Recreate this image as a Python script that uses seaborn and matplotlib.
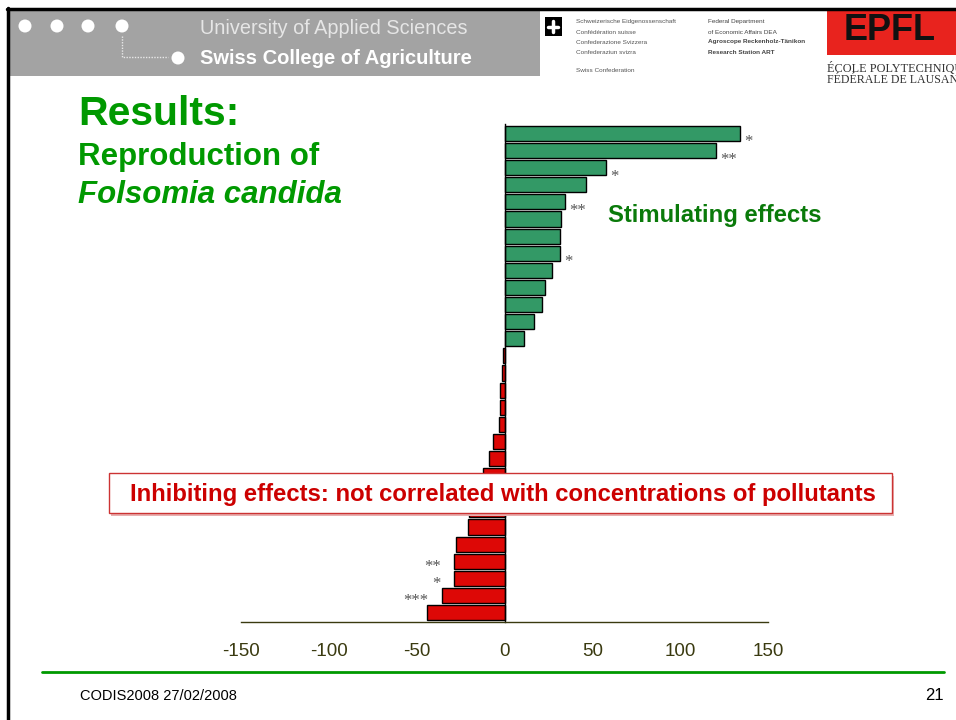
import numpy as np
import pandas as pd
import matplotlib
matplotlib.use("Agg")
import matplotlib.pyplot as plt
from matplotlib.patches import Rectangle, Circle
import seaborn as sns

# data (% change in reproduction vs control)
samples = [f"S{i:02d}" for i in range(1, 30)]
effects = [134, 120.4, 57.7, 46.3, 34.4, 32, 31.5, 31.5, 27, 23, 21.3, 16.7, 11,
           -1.1, -1.2, -2.3, -2.8, -3.4, -6.3, -9.1, -12, -16, -20, -20.5,
           -27.4, -28.5, -28.5, -35.3, -44.4]
signif = ["*", "**", "*", "", "**", "", "", "*", "", "", "", "", "",
          "", "", "", "", "", "", "", "", "", "*", "", "", "**", "*", "***", ""]
xticks = [-150, -100, -50, 0, 50, 100, 150]

df = pd.DataFrame({"sample": samples, "effect": effects, "stars": signif})
df["sign"] = np.where(df["effect"] > 0, "stim", "inhib")

sns.set_style("white")
plt.rcParams["font.family"] = ["Liberation Sans", "DejaVu Sans"]

W, H = 956, 720
fig = plt.figure(figsize=(W / 100, H / 100), dpi=100)
fig.patch.set_facecolor("white")

# background layer in pixel coordinates (header, frame, footer)
bg = fig.add_axes([0, 0, 1, 1], zorder=0)
bg.set_xlim(0, W)
bg.set_ylim(H, 0)
bg.axis("off")

bg.add_patch(Rectangle((8, 11), 532, 65, color="#a3a3a3", lw=0))
bg.plot([7, W], [9, 9], color="black", lw=2.5)
bg.plot([8.5, 8.5], [8, H], color="black", lw=2.5)
for cx in [25, 57, 88, 122]:
    bg.add_patch(Circle((cx, 26), 6.5, color="white", lw=0))
bg.add_patch(Circle((178, 58), 6.5, color="white", lw=0))
bg.plot([122, 122, 168], [36, 57, 57], color="#e8e8e8", lw=1, ls=(0, (1, 1)))
bg.text(200, 28, "University of Applied Sciences", color="#e6e6e6",
        fontsize=14.3, va="center", ha="left")
bg.text(200, 58, "Swiss College of Agriculture", color="white",
        fontsize=14.5, fontweight="bold", va="center", ha="left")

# Swiss confederation logo block
bg.add_patch(Rectangle((545, 17), 17, 19, color="black", lw=0))
bg.plot([553.5, 553.5], [21, 32], color="white", lw=2.5)
bg.plot([548.5, 558.5], [26.5, 26.5], color="white", lw=2.5)
for yy, txt in zip([22, 32, 42, 52, 71],
                   ["Schweizerische Eidgenossenschaft", "Confédération suisse",
                    "Confederazione Svizzera", "Confederaziun svizra",
                    "Swiss Confederation"]):
    bg.text(576, yy, txt, fontsize=4.6, color="#555555", va="center")
for yy, txt, fw in zip([22, 32, 42, 52],
                       ["Federal Department", "of Economic Affairs DEA",
                        "Agroscope Reckenholz-Tänikon", "Research Station ART"],
                       ["normal", "normal", "bold", "bold"]):
    bg.text(708, yy, txt, fontsize=4.6, color="#444444", va="center",
            fontweight=fw)

# EPFL logo block
bg.add_patch(Rectangle((827, 11), 129, 44, color="#e8231e", lw=0))
bg.text(890, 30, "EPFL", fontsize=26, color="#111111", ha="center",
        va="center", fontweight="bold")
bg.text(827, 68, "ÉCOLE POLYTECHNIQUE", fontsize=8.8, color="#333333",
        va="center", family="Liberation Serif")
bg.text(827, 80, "FÉDÉRALE DE LAUSANNE", fontsize=8.6, color="#333333",
        va="center", family="Liberation Serif")

# title block
bg.text(78, 125, "Results:", fontsize=29.5, color="#009900",
        fontweight="bold", va="baseline")
bg.text(78, 165, "Reproduction of", fontsize=22.5, color="#009900",
        fontweight="bold", va="baseline")
bg.text(78, 203, "Folsomia candida", fontsize=22.5, color="#009900",
        fontweight="bold", fontstyle="italic", va="baseline")

# footer
bg.plot([42, 944], [672, 672], color="#009900", lw=2)
bg.text(80, 696, "CODIS2008 27/02/2008", fontsize=10.5, color="black",
        va="center")
bg.text(944, 696, "21", fontsize=12, color="black", va="center", ha="right")

# chart
x0, x1 = 241, 768
y_top, y_bot = 124, 622
ax = fig.add_axes([x0 / W, 1 - y_bot / H, (x1 - x0) / W, (y_bot - y_top) / H],
                  zorder=1)
ax.patch.set_alpha(0)
sns.barplot(data=df, x="effect", y="sample", hue="sign", orient="h",
            palette={"stim": "#339966", "inhib": "#dd0806"}, dodge=False,
            saturation=1, width=0.88, edgecolor="black", linewidth=1,
            legend=False, ax=ax)
ax.set_xlim(-150, 150)
ax.set_ylim(len(samples) - 0.45, -0.55)
ax.set_xticks(xticks)
ax.set_xticklabels([str(t) for t in xticks])
ax.set_yticks([])
ax.set_xlabel("")
ax.set_ylabel("")
axis_col = "#3a3a10"
for s in ["top", "right"]:
    ax.spines[s].set_visible(False)
ax.spines["left"].set_position(("data", 0))
ax.spines["left"].set_color("black")
ax.spines["left"].set_linewidth(1)
ax.spines["bottom"].set_color(axis_col)
ax.spines["bottom"].set_linewidth(1)
ax.tick_params(axis="x", direction="out", length=4, width=1, color=axis_col,
               labelcolor=axis_col, labelsize=13.5, pad=11)

# significance stars next to the bar ends
for i, (v, st) in enumerate(zip(effects, signif)):
    if not st:
        continue
    if v > 0:
        ax.annotate(st, (v, i), xytext=(3, -6.5), textcoords="offset points",
                    ha="left", va="center", fontsize=12, color="#555555",
                    family="Liberation Serif")
    else:
        ax.annotate(st, (v, i), xytext=(-10, -4), textcoords="offset points",
                    ha="right", va="center", fontsize=12, color="#555555",
                    family="Liberation Serif")

ax.text(0.696, 0.817, "Stimulating effects", transform=ax.transAxes,
        fontsize=17.2, color="#0a7a0a", fontweight="bold", va="center",
        ha="left")

# foreground annotation box
fg = fig.add_axes([0, 0, 1, 1], zorder=2)
fg.set_xlim(0, W)
fg.set_ylim(H, 0)
fg.axis("off")
fg.add_patch(Rectangle((111, 476), 783, 40, facecolor="#e8b0b0", lw=0))
fg.add_patch(Rectangle((109, 473), 783, 40, facecolor="white",
                       edgecolor="#cc3333", lw=1))
fg.text(503, 494, "Inhibiting effects: not correlated with concentrations of pollutants",
        fontsize=17.2, color="#cc0000", fontweight="bold", ha="center",
        va="center")

fig.savefig("out.png", dpi=100)
